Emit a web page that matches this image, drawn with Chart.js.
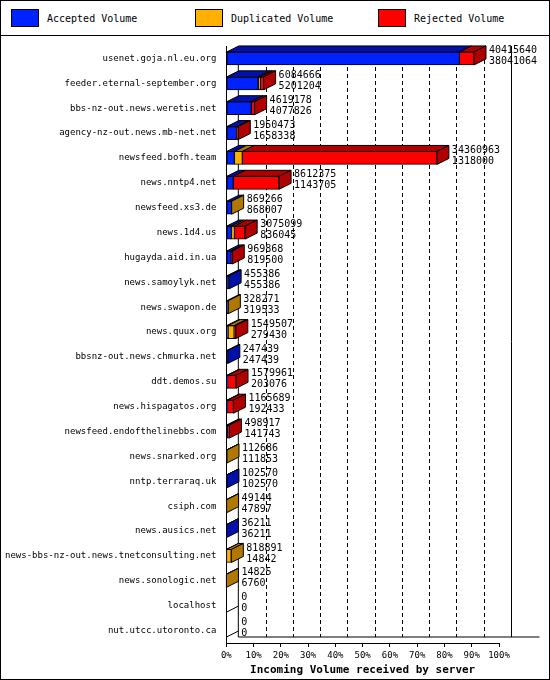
<!DOCTYPE html>
<html><head><meta charset="utf-8">
<script src="https://cdn.jsdelivr.net/npm/chart.js@4"></script>
<style>
body{margin:0;background:#fff;font-family:"DejaVu Sans Mono",monospace;}
#wrap{position:relative;width:548px;height:678px;border:1px solid #000;}
#legend{height:34px;border-bottom:1px solid #000;position:relative;font-size:10px;}
.lg{position:absolute;top:8px;display:flex;align-items:center;}
.lg span.b{display:inline-block;width:26px;height:16px;border:1px solid #000;margin-right:8px;}
#box{position:absolute;top:35px;left:0;width:548px;height:643px;}
</style></head><body>
<div id="wrap">
<div id="legend">
 <div class="lg" style="left:10px"><span class="b" style="background:#0022ff"></span>Accepted Volume</div>
 <div class="lg" style="left:194px"><span class="b" style="background:#ffb000"></span>Duplicated Volume</div>
 <div class="lg" style="left:377px"><span class="b" style="background:#ff0000"></span>Rejected Volume</div>
</div>
<div id="box"><canvas id="c"></canvas></div>
</div>
<script>
const servers = ["usenet.goja.nl.eu.org","feeder.eternal-september.org","bbs-nz-out.news.weretis.net",
 "agency-nz-out.news.mb-net.net","newsfeed.bofh.team","news.nntp4.net","newsfeed.xs3.de","news.1d4.us",
 "hugayda.aid.in.ua","news.samoylyk.net","news.swapon.de","news.quux.org","bbsnz-out.news.chmurka.net",
 "ddt.demos.su","news.hispagatos.org","newsfeed.endofthelinebbs.com","news.snarked.org","nntp.terraraq.uk",
 "csiph.com","news.ausics.net","news-bbs-nz-out.news.tnetconsulting.net","news.sonologic.net","localhost",
 "nut.utcc.utoronto.ca"];
const totalVolume = [40415640,6084666,4619178,1950473,34360963,8612375,869266,3075099,969868,455386,328271,
 1549507,247439,1579961,1165689,498917,112686,102570,49144,36211,818891,14825,0,0];
const accepted = [38041064,5201204,4077826,1658338,1318000,1143705,868007,836045,819500,455386,319533,
 279430,247439,203076,192433,141743,111853,102570,47897,36211,14842,6760,0,0];
const duplicated = [0,350000,0,0,1300000,0,1259,500000,0,0,8738,1000000,0,0,0,0,833,0,1247,0,804049,8065,0,0];
const rejected = [2374576,533462,541352,292135,31742963,7468670,0,1739054,150368,0,0,270077,0,1376885,
 973256,357174,0,0,0,0,0,0,0,0];
const pctTicks = [0,10,20,30,40,50,60,70,80,90,100];

const axisMax = 44500000;
const front = ['#0022ff','#ffb000','#ff0000'];
const dark = ['#0010a8','#b07800','#b00000'];
const DX = 12, DY = 6;

const threeD = {
  id:'threeD',
  afterDatasetsDraw(chart){
    const {ctx} = chart;
    ctx.save(); ctx.strokeStyle='#000'; ctx.lineWidth=1;
    servers.forEach((s,i)=>{
      let last = -1, lastBar = null;
      [0,1,2].forEach(d=>{
        const bar = chart.getDatasetMeta(d).data[i];
        const v = chart.data.datasets[d].data[i];
        if(!v) return;
        const x0 = Math.min(bar.base,bar.x), x1 = Math.max(bar.base,bar.x), t = bar.y - bar.height/2;
        ctx.fillStyle = dark[d];
        ctx.beginPath(); ctx.moveTo(x0,t); ctx.lineTo(x0+DX,t-DY); ctx.lineTo(x1+DX,t-DY); ctx.lineTo(x1,t);
        ctx.closePath(); ctx.fill(); ctx.stroke();
        last = d; lastBar = bar;
      });
      if(last>=0){
        const x1 = lastBar.x, t = lastBar.y - lastBar.height/2, b = lastBar.y + lastBar.height/2;
        ctx.fillStyle = dark[last];
        ctx.beginPath(); ctx.moveTo(x1,t); ctx.lineTo(x1+DX,t-DY); ctx.lineTo(x1+DX,b-DY); ctx.lineTo(x1,b);
        ctx.closePath(); ctx.fill(); ctx.stroke();
      } else {
        const bar = chart.getDatasetMeta(0).data[i];
        const x0 = bar.base, b = bar.y + bar.height/2;
        ctx.beginPath(); ctx.moveTo(x0,b); ctx.lineTo(x0+DX,b-DY); ctx.stroke();
      }
    });
    ctx.restore();
  }
};
const valueLabels = {
  id:'valueLabels',
  afterDatasetsDraw(chart){
    const {ctx, scales:{x,y}} = chart;
    ctx.save();
    ctx.font = '10px "DejaVu Sans Mono"';
    ctx.fillStyle = '#000';
    ctx.textBaseline = 'middle';
    servers.forEach((s,i)=>{
      const px = x.getPixelForValue(totalVolume[i]) + DX + 3;
      const py = y.getPixelForValue(i);
      ctx.fillText(String(totalVolume[i]), px, py-8);
      ctx.fillText(String(accepted[i]), px, py+3);
    });
    ctx.restore();
  }
};
const ds = (label, data, d) => ({label, data, backgroundColor:front[d], borderColor:'#000', borderWidth:1,
  barThickness:13, borderSkipped:false});
new Chart(document.getElementById('c'), {
  type:'bar',
  data:{labels:servers, datasets:[
    ds('Accepted Volume', accepted, 0),
    ds('Duplicated Volume', duplicated, 1),
    ds('Rejected Volume', rejected, 2)
  ]},
  options:{
    indexAxis:'y', responsive:true, maintainAspectRatio:false, animation:false,
    layout:{padding:{top:10,right:50,bottom:2,left:2}},
    plugins:{legend:{display:false}, tooltip:{enabled:false}},
    scales:{
      x:{stacked:true, min:0, max:axisMax,
        afterBuildTicks:(a)=>{a.ticks = pctTicks.map(p=>({value:p*axisMax/100}));},
        ticks:{color:'#000', font:{family:'DejaVu Sans Mono', size:9}, maxRotation:0, autoSkip:false,
          callback:(v)=>Math.round(v/axisMax*100)+'%'},
        grid:{color:'#000', drawOnChartArea:false, drawTicks:true, tickLength:4}, border:{color:'#000'},
        title:{display:true, text:'Incoming Volume received by server', color:'#000',
          font:{family:'DejaVu Sans Mono', size:11, weight:'bold'}, padding:{top:0,bottom:0}}},
      y:{stacked:true,
        ticks:{color:'#000', font:{family:'DejaVu Sans Mono', size:9}, autoSkip:false, padding:2},
        grid:{display:false}, border:{color:'#000'}}
    }
  },
  plugins:[threeD, valueLabels, {
    id:'dash', beforeDatasetsDraw(chart){
      const {ctx, chartArea:a, scales:{x}} = chart;
      ctx.save(); ctx.strokeStyle='#000'; ctx.setLineDash([4,3]); ctx.lineWidth=1;
      pctTicks.slice(1,-1).forEach(p=>{const px=Math.round(x.getPixelForValue(p*axisMax/100))+0.5+DX;
        ctx.beginPath(); ctx.moveTo(px,a.top); ctx.lineTo(px,a.bottom-DY); ctx.stroke();});
      ctx.setLineDash([]);
      const px=Math.round(x.getPixelForValue(axisMax))+0.5+DX;
      ctx.beginPath(); ctx.moveTo(px,a.top); ctx.lineTo(px,a.bottom-DY); ctx.stroke();
      ctx.beginPath(); ctx.moveTo(a.left+DX,a.top); ctx.lineTo(a.left+DX,a.bottom-DY);
      ctx.lineTo(px+28,a.bottom-DY); ctx.stroke();
      ctx.restore();
    }
  }]
});
</script>
</body></html>
